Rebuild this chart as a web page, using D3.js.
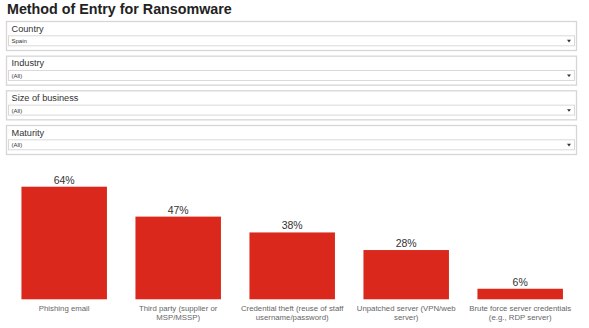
<!DOCTYPE html>
<html>
<head>
<meta charset="utf-8">
<script src="https://cdn.jsdelivr.net/npm/d3@7"></script>
<style>
  html, body { margin: 0; padding: 0; background: #fff; }
  svg { display: block; }
</style>
</head>
<body>
<svg id="chart" width="589" height="328"></svg>
<script>
// Chart data
const title = "Method of Entry for Ransomware";
const filterLabels = ["Country", "Industry", "Size of business", "Maturity"];
const filterValues = ["Spain", "(All)", "(All)", "(All)"];
const categories = [
  ["Phishing email"],
  ["Third party (supplier or", "MSP/MSSP)"],
  ["Credential theft (reuse of staff", "username/password)"],
  ["Unpatched server (VPN/web", "server)"],
  ["Brute force server credentials", "(e.g., RDP server)"]
];
const values = [64, 47, 38, 28, 6];

const font = "'Liberation Sans', Arial, sans-serif";
const svg = d3.select("#chart").style("font-family", font);

// Title
svg.append("text")
  .attr("x", 7).attr("y", 13.5)
  .attr("font-size", 14.3).attr("font-weight", "bold")
  .attr("fill", "#222")
  .text(title);

// Filter panels (label + dropdown)
const fy = d3.scalePoint().domain(d3.range(filterLabels.length)).range([21, 125]);
const panel = svg.selectAll("g.filter").data(filterLabels).join("g")
  .attr("class", "filter")
  .attr("transform", (d, i) => `translate(0,${fy(i)})`);
panel.append("rect")
  .attr("x", 6.5).attr("y", 0.5).attr("width", 570).attr("height", 29)
  .attr("fill", "#fff").attr("stroke", "#d6d6d6").attr("stroke-width", 1.3);
panel.append("text")
  .attr("x", 11.5).attr("y", 10.5)
  .attr("font-size", 9.2).attr("fill", "#333")
  .text(d => d);
panel.append("rect")
  .attr("x", 8.5).attr("y", 14.8).attr("width", 566).attr("height", 10)
  .attr("fill", "#fff").attr("stroke", "#d9d9d9").attr("stroke-width", 1);
panel.append("text")
  .attr("x", 11.5).attr("y", 22.2)
  .attr("font-size", 6).attr("fill", "#333")
  .text((d, i) => filterValues[i]);
panel.append("path")
  .attr("d", "M567,18.8 L571,18.8 L569,21.4 Z")
  .attr("fill", "#333");

// Bar chart
const x = d3.scaleBand()
  .domain(d3.range(values.length))
  .range([7.2, 577.2])
  .paddingInner(0.25)
  .paddingOuter(0.125);
const y = d3.scaleLinear().domain([0, 64]).range([299.3, 186.7]);

svg.selectAll("rect.bar").data(values).join("rect")
  .attr("class", "bar")
  .attr("x", (d, i) => x(i))
  .attr("y", d => y(d))
  .attr("width", x.bandwidth())
  .attr("height", d => y(0) - y(d))
  .attr("fill", "#da291c");

svg.selectAll("text.val").data(values).join("text")
  .attr("class", "val")
  .attr("x", (d, i) => x(i) + x.bandwidth() / 2)
  .attr("y", d => y(d) - 3)
  .attr("text-anchor", "middle")
  .attr("font-size", 10.5).attr("fill", "#333")
  .text(d => d + "%");

const cat = svg.selectAll("text.cat").data(categories).join("text")
  .attr("class", "cat")
  .attr("text-anchor", "middle")
  .attr("font-size", 7.8).attr("fill", "#666");
cat.selectAll("tspan").data((d, i) => d.map(s => ({ s, i }))).join("tspan")
  .attr("x", d => x(d.i) + x.bandwidth() / 2)
  .attr("y", (d, j) => 310.5 + j * 9)
  .text(d => d.s);
</script>
</body>
</html>
